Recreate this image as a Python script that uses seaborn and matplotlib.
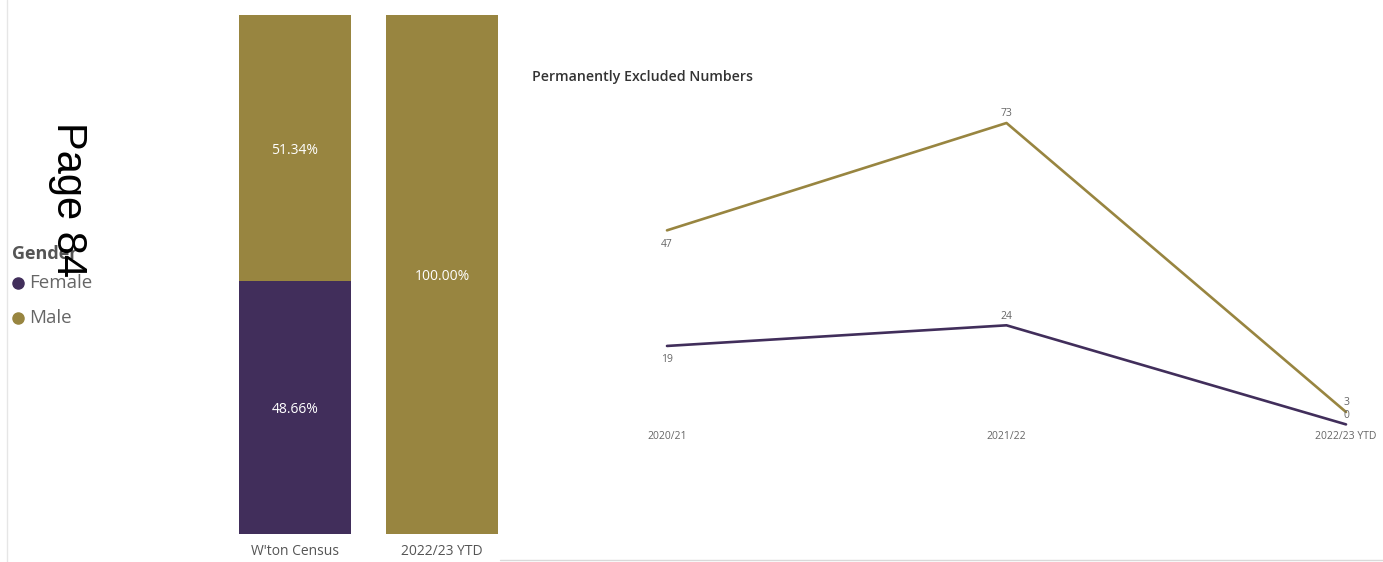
import matplotlib
matplotlib.use("Agg")
import matplotlib.pyplot as plt
from matplotlib.lines import Line2D
import seaborn as sns
import pandas as pd
import numpy as np

# ---- data ----
bar_categories = ["W'ton Census", "2022/23 YTD"]
bar_female = [48.66, 0.0]
bar_male = [51.34, 100.0]

years = ["2020/21", "2021/22", "2022/23 YTD"]
excl_female = [19, 24, 0]
excl_male = [47, 73, 3]

genders = ["Female", "Male"]
FEMALE_C = "#412E5B"
MALE_C = "#988540"

sns.set_theme(style="white")
plt.rcParams["font.family"] = ["Open Sans", "DejaVu Sans"]

W, H = 1383, 562
fig = plt.figure(figsize=(W / 100, H / 100), dpi=100)

def ax_px(x0, x1, ytop, ybot):
    return fig.add_axes([x0 / W, 1 - ybot / H, (x1 - x0) / W, (ybot - ytop) / H])

# ---- stacked bar chart ----
axb = ax_px(239, 498, 15, 534)
totals = [f + m for f, m in zip(bar_female, bar_male)]
bdf = pd.DataFrame({"cat": bar_categories, "total": totals, "female": bar_female})
sns.barplot(data=bdf, x="cat", y="total", color=MALE_C, width=0.76, ax=axb,
            saturation=1, linewidth=0)
sns.barplot(data=bdf, x="cat", y="female", color=FEMALE_C, width=0.76, ax=axb,
            saturation=1, linewidth=0)
axb.set_xlim(-0.38, 1.38)
axb.set_ylim(0, 100)
axb.set_xlabel("")
axb.set_ylabel("")
axb.set_yticks([])
axb.tick_params(axis="x", length=0, pad=7, labelsize=10, labelcolor="#555555")
for s in axb.spines.values():
    s.set_visible(False)
for i, (f, m) in enumerate(zip(bar_female, bar_male)):
    if f > 0:
        axb.text(i, f / 2 - 0.4, f"{f:.2f}%", ha="center", va="center", color="white", fontsize=10)
    if m > 0:
        axb.text(i, f + m / 2 - 0.4, f"{m:.2f}%", ha="center", va="center", color="white", fontsize=10)

# ---- legend ----
fig.text(12 / W, 1 - 254 / H, "Gender", fontsize=13, fontweight="bold", color="#555555",
         ha="left", va="center")
for g, c, yy in zip(genders, [FEMALE_C, MALE_C], [283, 318]):
    fig.add_artist(Line2D([18 / W], [1 - yy / H], marker="o", markersize=8,
                          color=c, linestyle="none", transform=fig.transFigure))
    fig.text(29 / W, 1 - yy / H, g, fontsize=13.5, color="#666666", ha="left", va="center")

# ---- "Page 84" ----
fig.text(68 / W, 1 - 200 / H, "Page 84", rotation=270, fontsize=30, color="black",
         ha="center", va="center", family=["Liberation Sans", "DejaVu Sans"])

# ---- line chart ----
axl = ax_px(640, 1373, 100, 428)
ldf = pd.DataFrame({
    "pos": list(range(len(years))) * 2,
    "value": excl_female + excl_male,
    "gender": ["Female"] * len(years) + ["Male"] * len(years),
})
sns.lineplot(data=ldf, x="pos", y="value", hue="gender", palette=[FEMALE_C, MALE_C],
             linewidth=1.9, ax=axl, legend=False, sort=False)
px_per_unit = 339.5
axl.set_xlim(-27 / px_per_unit, 2 + 27 / px_per_unit)
upp = 73 / (424.4 - 123)
axl.set_ylim(-(428 - 424.4) * upp, 73 + (123 - 100) * upp)
axl.set_xticks(range(len(years)))
axl.set_xticklabels(years)
axl.set_yticks([])
axl.set_xlabel("")
axl.set_ylabel("")
axl.tick_params(axis="x", length=0, pad=2, labelsize=7.5, labelcolor="#666666")
for s in axl.spines.values():
    s.set_visible(False)
for ln in axl.lines:
    ln.set_clip_on(False)

# data labels: offsets in points (above / below)
male_off = [-10, 6.5, 6.5]
female_off = [-9.5, 6.5, 6.5]
for i, v in enumerate(excl_male):
    axl.annotate(str(v), (i, v), xytext=(0, male_off[i]), textcoords="offset points",
                 ha="center", va="center", fontsize=7.5, color="#666666")
for i, v in enumerate(excl_female):
    axl.annotate(str(v), (i, v), xytext=(0, female_off[i]), textcoords="offset points",
                 ha="center", va="center", fontsize=7.5, color="#666666")

fig.text(532 / W, 1 - 77 / H, "Permanently Excluded Numbers", fontsize=10.2, fontweight="semibold",
         color="#333333", ha="left", va="center")

# faint page borders
fig.add_artist(Line2D([7 / W, 7 / W], [0, 1], color="#e6e6e6", lw=1, transform=fig.transFigure))
fig.add_artist(Line2D([500 / W, 1], [2 / H, 2 / H], color="#d9d9d9", lw=1, transform=fig.transFigure))

fig.savefig("out.png", dpi=100)
